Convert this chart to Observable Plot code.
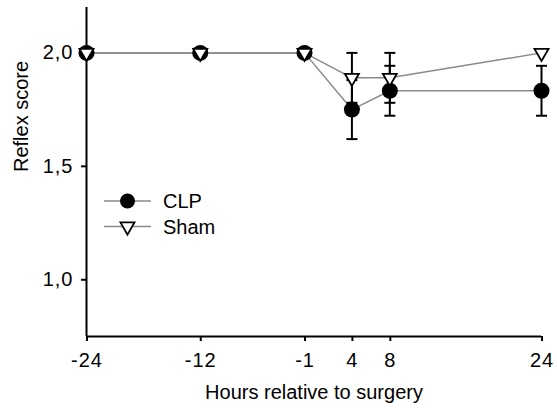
<!DOCTYPE html>
<html>
<head>
<meta charset="utf-8">
<script src="https://cdn.jsdelivr.net/npm/d3@7"></script>
<script src="https://cdn.jsdelivr.net/npm/@observablehq/plot@0.6"></script>
<style>
  body { margin: 0; background: #fff; }
  #wrap { position: relative; width: 557px; height: 408px; font-family: "Liberation Sans", Arial, sans-serif; }
  #wrap svg { display: block; }
  #legend { position: absolute; left: 0; top: 0; pointer-events: none; }
</style>
</head>
<body>
<div id="wrap"></div>
<script>
// Time points (hours relative to surgery)
const hours = [-24, -12, -1, 4, 8, 24];

// Reflex score, mean and SEM per group
const clpMean  = [2.0, 2.0, 2.0, 1.75, 1.833, 1.833];
const clpSem   = [0,   0,   0,   0.13, 0.11,  0.11];
const shamMean = [2.0, 2.0, 2.0, 1.89, 1.89,  2.0];
const shamSem  = [0,   0,   0,   0.11, 0.11,  0];

const groups = ["CLP", "Sham"];
const yTicks = [1.0, 1.5, 2.0];
const xTitle = "Hours relative to surgery";
const yTitle = "Reflex score";

const rows = [];
hours.forEach((h, i) => {
  rows.push({group: "CLP",  hour: h, mean: clpMean[i],  low: clpMean[i] - clpSem[i],  high: clpMean[i] + clpSem[i],  sem: clpSem[i]});
  rows.push({group: "Sham", hour: h, mean: shamMean[i], low: shamMean[i] - shamSem[i], high: shamMean[i] + shamSem[i], sem: shamSem[i]});
});
const clp = rows.filter(d => d.group === "CLP");
const sham = rows.filter(d => d.group === "Sham");
const bars = rows.filter(d => d.sem > 0);

// Downward-pointing triangle, centred on its centroid
const triangleDown = {
  draw(ctx, size) {
    const a = Math.sqrt(size / (3 * Math.sqrt(3)));
    const w = Math.sqrt(3) * a;
    ctx.moveTo(0, 2 * a);
    ctx.lineTo(w, -a);
    ctx.lineTo(-w, -a);
    ctx.closePath();
  }
};
// Horizontal error-bar cap of fixed pixel width
const cap = {
  draw(ctx) {
    ctx.moveTo(-5.5, 0);
    ctx.lineTo(5.5, 0);
  }
};

const fmt = d => d.toFixed(1).replace(".", ",");
const lineGray = "#8a8a8a";

const chart = Plot.plot({
  width: 557,
  height: 408,
  marginLeft: 86,
  marginRight: 16,
  marginTop: 7,
  marginBottom: 72,
  style: {fontFamily: "'Liberation Sans', Arial, sans-serif", color: "#000", background: "#fff"},
  x: {domain: [-24, 24]},
  y: {domain: [0.75, 2.2]},
  marks: [
    Plot.axisX({ticks: hours, tickSize: 5, tickPadding: 11, strokeWidth: 2, fontSize: 20, dx: 0.5, tickFormat: d => String(d), label: null}),
    Plot.axisY({ticks: yTicks, tickSize: 5, tickPadding: 8, strokeWidth: 2, fontSize: 20, tickFormat: fmt, label: null}),
    Plot.ruleX([-24], {stroke: "#000", strokeWidth: 2}),
    Plot.ruleY([0.75], {stroke: "#000", strokeWidth: 2}),
    Plot.line(clp, {x: "hour", y: "mean", stroke: lineGray, strokeWidth: 1.5}),
    Plot.line(sham, {x: "hour", y: "mean", stroke: lineGray, strokeWidth: 1.5}),
    Plot.ruleX(bars, {x: "hour", y1: "low", y2: "high", stroke: "#000", strokeWidth: 2}),
    Plot.dot(bars, {x: "hour", y: "low", symbol: cap, stroke: "#000", strokeWidth: 2}),
    Plot.dot(bars, {x: "hour", y: "high", symbol: cap, stroke: "#000", strokeWidth: 2}),
    Plot.dot(clp, {x: "hour", y: "mean", r: 8, fill: "#000", stroke: "none"}),
    Plot.dot(sham, {x: "hour", y: "mean", r: 5.2, symbol: triangleDown, fill: "#fff", stroke: "#000", strokeWidth: 1.8}),
    Plot.text([xTitle], {frameAnchor: "bottom", dy: 62, fontSize: 20, fill: "#000"}),
    Plot.text([yTitle], {frameAnchor: "left", dx: -65, rotate: -90, fontSize: 20, fill: "#000"})
  ]
});

// Slightly wider digit spacing on tick labels
d3.select(chart).selectAll('g[aria-label="x-axis tick label"], g[aria-label="y-axis tick label"]')
  .style("letter-spacing", "1px");

const wrap = document.getElementById("wrap");
wrap.appendChild(chart);

// Legend overlay
const leg = d3.select(wrap).append("svg")
  .attr("id", "legend").attr("width", 557).attr("height", 408);
const items = leg.selectAll("g").data(groups).join("g")
  .attr("transform", (d, i) => `translate(104,${201 + i * 25.5})`);
items.append("line").attr("x1", 0).attr("x2", 47).attr("y1", 0).attr("y2", 0)
  .attr("stroke", lineGray).attr("stroke-width", 1.5);
items.filter(d => d === "CLP").append("circle")
  .attr("cx", 23.5).attr("cy", 0).attr("r", 7.5).attr("fill", "#000");
items.filter(d => d === "Sham").append("path")
  .attr("transform", "translate(23.5,0)")
  .attr("d", () => { const p = d3.path(); triangleDown.draw(p, Math.PI * 27); return p.toString(); })
  .attr("fill", "#fff").attr("stroke", "#000").attr("stroke-width", 1.8);
items.append("text").attr("x", 59).attr("y", 0).attr("dy", "0.35em")
  .attr("font-size", 20).attr("font-family", "'Liberation Sans', Arial, sans-serif")
  .attr("fill", "#000").text(d => d);
</script>
</body>
</html>
